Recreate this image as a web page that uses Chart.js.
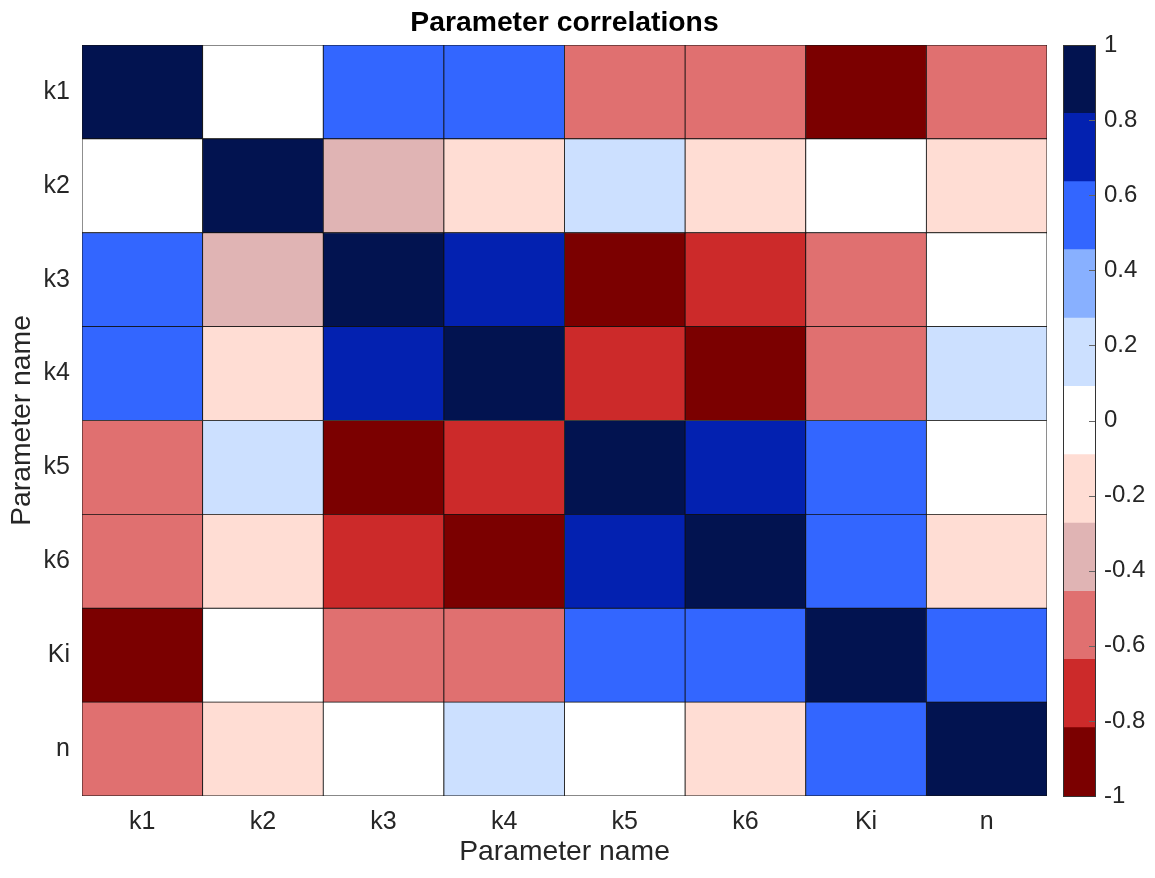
<!DOCTYPE html>
<html>
<head>
<meta charset="utf-8">
<title>Parameter correlations</title>
<script src="https://cdn.jsdelivr.net/npm/chart.js@4.4.1/dist/chart.umd.min.js"></script>
<style>
  html, body { margin: 0; padding: 0; background: #fff; }
  #wrap { position: relative; width: 1155px; height: 878px; }
  #heatBox { position: absolute; left: 0; top: 0; width: 1155px; height: 878px; }
  #barBox { position: absolute; left: 1063px; top: 0; width: 92px; height: 878px; }
</style>
</head>
<body>
<div id="wrap">
  <div id="heatBox"><canvas id="heatmap"></canvas></div>
  <div id="barBox"><canvas id="colorbar"></canvas></div>
</div>
<script>
// Parameter names (row and column order of the correlation matrix)
const paramNames = ['k1', 'k2', 'k3', 'k4', 'k5', 'k6', 'Ki', 'n'];

// Correlation matrix, one row per parameter
const corrK1 = [ 1.00,  0.03,  0.52,  0.50, -0.56, -0.54, -0.93, -0.52];
const corrK2 = [ 0.03,  1.00, -0.36, -0.17,  0.18, -0.16,  0.02, -0.15];
const corrK3 = [ 0.52, -0.36,  1.00,  0.74, -0.91, -0.72, -0.53, -0.04];
const corrK4 = [ 0.50, -0.17,  0.74,  1.00, -0.71, -0.90, -0.51,  0.14];
const corrK5 = [-0.56,  0.18, -0.91, -0.71,  1.00,  0.75,  0.52,  0.05];
const corrK6 = [-0.54, -0.16, -0.72, -0.90,  0.75,  1.00,  0.50, -0.15];
const corrKi = [-0.93,  0.02, -0.53, -0.51,  0.52,  0.50,  1.00,  0.51];
const corrN  = [-0.52, -0.15, -0.04,  0.14,  0.05, -0.15,  0.51,  1.00];
const corrRows = [corrK1, corrK2, corrK3, corrK4, corrK5, corrK6, corrKi, corrN];

// Discrete red-white-blue colormap: 11 levels between -1 and 1
const levelEdges = [-1, -0.818, -0.636, -0.455, -0.273, -0.091, 0.091, 0.273, 0.455, 0.636, 0.818, 1];
const levelColors = ['#7B0000', '#CC2A2A', '#E07070', '#E0B4B4', '#FFDDD4', '#FFFFFF',
                     '#CCE0FF', '#88B0FF', '#3366FF', '#0321B0', '#021350'];
const cbarTicks = [-1, -0.8, -0.6, -0.4, -0.2, 0, 0.2, 0.4, 0.6, 0.8, 1];

const FONT = "'Liberation Sans', Arial, Helvetica, sans-serif";
const TEXT = '#262626';

function colorFor(v) {
  let k = 0;
  while (k < levelColors.length - 1 && v > levelEdges[k + 1]) k++;
  return levelColors[k];
}

// Heatmap: each row is a stacked dataset of unit-height cells, bottom row first
const heatDatasets = [];
for (let r = paramNames.length - 1; r >= 0; r--) {
  heatDatasets.push({
    label: paramNames[r],
    data: corrRows[r].map(() => 1),
    backgroundColor: corrRows[r].map(colorFor),
    borderColor: '#111',
    borderWidth: 0.8,
    borderSkipped: false,
    barPercentage: 1,
    categoryPercentage: 1
  });
}

new Chart(document.getElementById('heatmap').getContext('2d'), {
  type: 'bar',
  data: { labels: paramNames, datasets: heatDatasets },
  options: {
    responsive: true,
    maintainAspectRatio: false,
    animation: false,
    layout: { padding: { left: 0, right: 108, top: 0, bottom: 0 } },
    plugins: {
      legend: { display: false },
      tooltip: { enabled: false },
      title: {
        display: true,
        fullSize: false, // center over the cells, not the whole canvas
        text: 'Parameter correlations',
        color: '#000',
        font: { family: FONT, size: 28.3, weight: 'bold' },
        padding: { top: 6, bottom: 5 }
      }
    },
    scales: {
      x: {
        stacked: true,
        grid: { display: false, drawTicks: false },
        border: { display: false },
        ticks: { color: TEXT, font: { family: FONT, size: 25 }, padding: 11, maxRotation: 0, autoSkip: false },
        title: { display: true, text: 'Parameter name', color: TEXT, font: { family: FONT, size: 28.3 }, padding: { top: 0, bottom: 9 } },
        afterFit: s => { s.height = 82; }
      },
      y: {
        stacked: true,
        min: 0,
        max: 8,
        grid: { display: false, drawTicks: false },
        border: { display: false },
        afterBuildTicks: s => { s.ticks = paramNames.map((_, i) => ({ value: i + 0.5 })); },
        ticks: {
          color: TEXT,
          font: { family: FONT, size: 25 },
          padding: 12,
          callback: v => paramNames[paramNames.length - 1 - Math.floor(v)]
        },
        title: { display: true, text: 'Parameter name', color: TEXT, font: { family: FONT, size: 28.3 }, padding: { top: 5, bottom: 0 } },
        afterFit: s => { s.width = 82; }
      }
    }
  }
});

// Colorbar frame and inward tick marks
const cbarFrame = {
  id: 'cbarFrame',
  afterDraw(chart) {
    const { ctx, chartArea: a } = chart;
    const y = chart.scales.y;
    ctx.save();
    ctx.strokeStyle = '#666';
    ctx.lineWidth = 1;
    cbarTicks.forEach(t => {
      const py = Math.round(y.getPixelForValue(t)) + 0.5;
      ctx.beginPath();
      ctx.moveTo(a.right - 7, py);
      ctx.lineTo(a.right, py);
      ctx.stroke();
    });
    ctx.strokeStyle = '#333';
    ctx.strokeRect(Math.round(a.left) + 0.5, Math.round(a.top) + 0.5,
                   Math.round(a.right - a.left) - 1, Math.round(a.bottom - a.top));
    ctx.restore();
  }
};

new Chart(document.getElementById('colorbar').getContext('2d'), {
  type: 'bar',
  data: {
    labels: [''],
    datasets: levelColors.map((c, k) => ({
      data: [[levelEdges[k], levelEdges[k + 1]]],
      backgroundColor: c,
      borderWidth: 0,
      barPercentage: 1,
      categoryPercentage: 1,
      grouped: false
    }))
  },
  options: {
    responsive: true,
    maintainAspectRatio: false,
    animation: false,
    layout: { padding: { left: 0, right: 0, top: 45, bottom: 82 } },
    plugins: { legend: { display: false }, tooltip: { enabled: false } },
    scales: {
      x: { display: false },
      y: {
        position: 'right',
        min: -1,
        max: 1,
        grid: { display: false, drawTicks: false },
        border: { display: false },
        afterBuildTicks: s => { s.ticks = cbarTicks.map(v => ({ value: v })); },
        ticks: {
          color: TEXT,
          font: { family: FONT, size: 24 },
          padding: 8,
          callback: v => String(Math.round(v * 10) / 10)
        },
        afterFit: s => { s.width = 59; }
      }
    }
  },
  plugins: [cbarFrame]
});
</script>
</body>
</html>
